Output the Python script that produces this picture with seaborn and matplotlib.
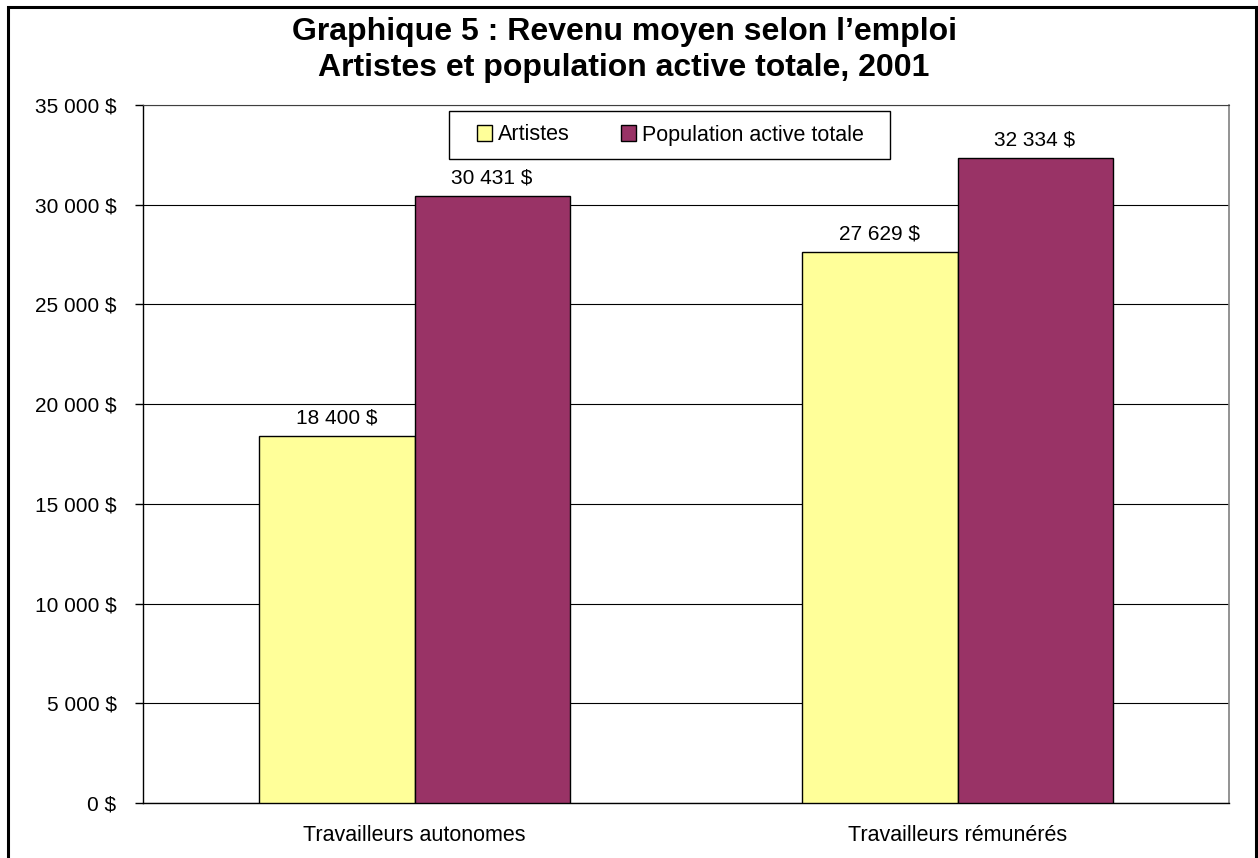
import matplotlib
matplotlib.use("Agg")
import matplotlib.pyplot as plt
from matplotlib.patches import Rectangle
import seaborn as sns
import pandas as pd

# Data
categories = ["Travailleurs autonomes", "Travailleurs rémunérés"]
series_names = ["Artistes", "Population active totale"]
artistes = [18400, 27629]
population = [30431, 32334]
colors = ["#FFFF99", "#993366"]
y_ticks = [0, 5000, 10000, 15000, 20000, 25000, 30000, 35000]


def fmt_dollars(v):
    return f"{v:,.0f} $".replace(",", " ")


df = pd.DataFrame({
    "categorie": categories * 2,
    "serie": [series_names[0]] * 2 + [series_names[1]] * 2,
    "revenu": artistes + population,
})

sns.set_style("white")
plt.rcParams["font.family"] = ["Liberation Sans", "DejaVu Sans"]
plt.rcParams["text.color"] = "black"
plt.rcParams["xtick.color"] = "black"
plt.rcParams["ytick.color"] = "black"

W, H = 1258, 858
fig = plt.figure(figsize=(W / 100, H / 100), dpi=100)
ax = fig.add_axes([143 / W, 55 / H, 1086 / W, 698 / H])

sns.barplot(
    data=df, x="categorie", y="revenu", hue="serie",
    palette=colors, width=0.571, gap=0, edgecolor="black", linewidth=1.0,
    saturation=1, ax=ax, legend=True, zorder=3,
)

# Data labels
for container in ax.containers:
    ax.bar_label(container, labels=[fmt_dollars(v) for v in container.datavalues],
                 padding=6, fontsize=15, color="black")

ax.set_xlim(-0.5, 1.5)
ax.set_ylim(0, 35000)
ax.set_yticks(y_ticks)
ax.set_yticklabels([fmt_dollars(v) for v in y_ticks], fontsize=15)
ax.set_xlabel("")
ax.set_ylabel("")
ax.tick_params(axis="x", which="major", length=0, pad=16, labelsize=15.5)
ax.set_xticks([-0.5, 0.5, 1.5], minor=True)
ax.tick_params(axis="x", which="minor", length=7, width=1, color="black", direction="out")
ax.tick_params(axis="y", length=6, width=1, color="black", direction="out", pad=13,
               left=True)
ax.yaxis.grid(True, color="black", linewidth=0.8, zorder=0)
ax.set_axisbelow(True)

for side in ["left", "bottom"]:
    ax.spines[side].set_color("black")
    ax.spines[side].set_linewidth(1.0)
ax.spines["right"].set_color("#808080")
ax.spines["right"].set_linewidth(1.2)
ax.spines["top"].set_color("#404040")

# Legend (frame drawn separately to get Excel-like padding)
handles, labels = ax.get_legend_handles_labels()
leg = ax.legend(
    handles, labels, loc="center", bbox_to_anchor=(670.5 / W, 1 - 135 / H),
    bbox_transform=fig.transFigure, ncol=2, frameon=False,
    fontsize=15.5, handlelength=0.7, handleheight=0.7,
    handletextpad=0.25, columnspacing=2.4, borderpad=0, borderaxespad=0,
)
leg.set_zorder(10)
ax.add_patch(Rectangle((449 / W, 1 - 159 / H), 441 / W, 48 / H,
                       transform=fig.transFigure, facecolor="white",
                       edgecolor="black", linewidth=1.0, zorder=6, clip_on=False))

# Title
fig.text(624 / W, 1 - 32 / H, "Graphique 5 : Revenu moyen selon l’emploi",
         ha="center", va="center", fontsize=23, fontweight="bold")
fig.text(624 / W, 1 - 68 / H, "Artistes et population active totale, 2001",
         ha="center", va="center", fontsize=23, fontweight="bold")

# Outer border
fig.patches.append(Rectangle((8 / W, -0.01), 1248 / W, 1 - 7 / H + 0.01,
                             transform=fig.transFigure, fill=False,
                             edgecolor="black", linewidth=2.2))

fig.savefig("out.png", dpi=100)
